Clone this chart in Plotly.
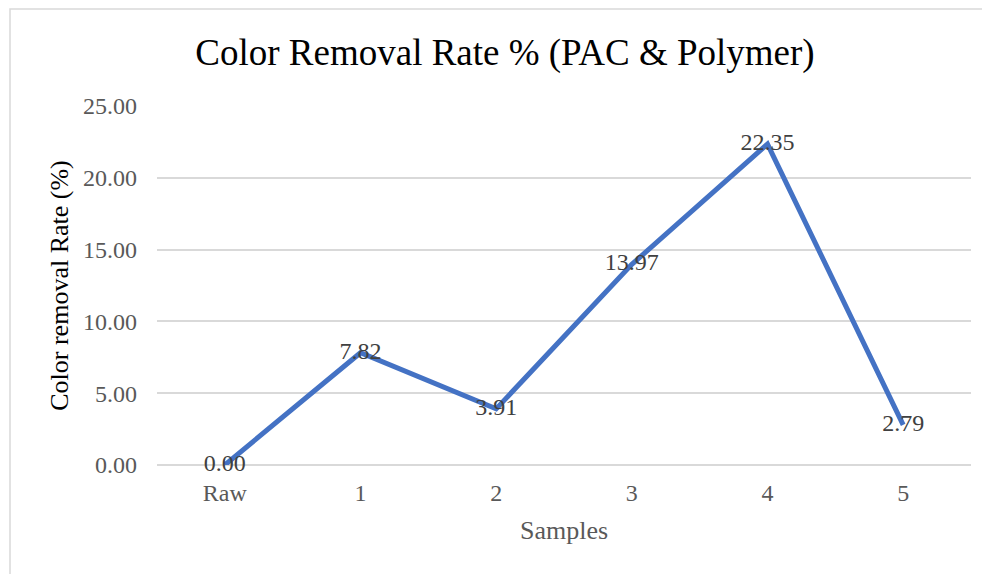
import plotly.graph_objects as go

categories = ["Raw", "1", "2", "3", "4", "5"]
removal_rate = [0.00, 7.82, 3.91, 13.97, 22.35, 2.79]
y_ticks = [0, 5, 10, 15, 20, 25]
y_tick_labels = ["0.00", "5.00", "10.00", "15.00", "20.00", "25.00"]

FONT = "Liberation Serif, Times New Roman, serif"
GRAY = "#595959"

fig = go.Figure()
fig.add_trace(go.Scatter(
    x=categories,
    y=removal_rate,
    mode="lines+text",
    line=dict(color="#4472C4", width=5),
    text=[f"{v:.2f}" for v in removal_rate],
    textposition="middle center",
    textfont=dict(family=FONT, size=24, color="#404040"),
    cliponaxis=False,
    showlegend=False,
))

OFF = 8  # page body margin
W, H = 990 - OFF, 574 - OFF
L, R, T, B = 157 - OFF, 19, 106 - OFF, 109
pw, ph = W - L - R, H - T - B

fig.update_layout(
    width=W, height=H,
    margin=dict(l=L, r=R, t=T, b=B),
    paper_bgcolor="white",
    plot_bgcolor="white",
    font=dict(family=FONT, color=GRAY),
    title=dict(
        text="Color Removal Rate % (PAC & Polymer)",
        x=(505 - OFF) / W, xanchor="center", y=1 - (52 - OFF) / H, yanchor="middle",
        font=dict(family=FONT, size=37, color="black"),
    ),
    xaxis=dict(
        type="category",
        range=[-0.5, 5.5],
        showgrid=False,
        showline=False,
        zeroline=False,
        ticks="",
        ticklabelstandoff=11,
        tickfont=dict(family=FONT, size=24, color=GRAY),
        title=dict(text="Samples", font=dict(family=FONT, size=26, color=GRAY), standoff=15),
    ),
    yaxis=dict(
        range=[0, 25],
        tickvals=y_ticks,
        ticktext=y_tick_labels,
        showgrid=True,
        gridcolor="#d9d9d9",
        gridwidth=1.5,
        zeroline=True,
        zerolinecolor="#d9d9d9",
        zerolinewidth=1.5,
        showline=False,
        ticks="",
        ticklabelstandoff=19,
        tickfont=dict(family=FONT, size=24, color=GRAY),
        title=dict(text="Color removal Rate (%)", font=dict(family=FONT, size=26, color="black"), standoff=6),
    ),
    shapes=[dict(
        type="rect", xref="paper", yref="paper",
        x0=(10 - OFF - L) / pw, x1=(1000 - OFF - L) / pw,
        y0=(H - T - 600) / ph, y1=(H - B - (9 - OFF)) / ph,
        line=dict(color="#d9d9d9", width=1.5),
        fillcolor="rgba(0,0,0,0)", layer="below",
    )],
)

fig.write_html("out.html")
